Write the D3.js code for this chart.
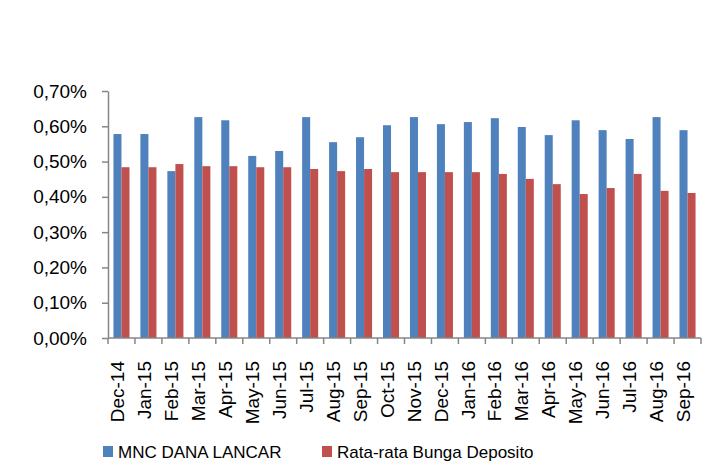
<!DOCTYPE html>
<html>
<head>
<meta charset="utf-8">
<script src="https://cdn.jsdelivr.net/npm/d3@7"></script>
<style>
  body { margin: 0; background: #fff; }
  svg { font-family: "Liberation Sans Narrow", "Arial Narrow", sans-serif; }
</style>
</head>
<body>
<svg width="718" height="473"></svg>
<script>
const svg = d3.select("svg");

const months = ["Dec-14", "Jan-15", "Feb-15", "Mar-15", "Apr-15", "May-15", "Jun-15", "Jul-15",
  "Aug-15", "Sep-15", "Oct-15", "Nov-15", "Dec-15", "Jan-16", "Feb-16", "Mar-16", "Apr-16",
  "May-16", "Jun-16", "Jul-16", "Aug-16", "Sep-16"];
const seriesNames = ["MNC DANA LANCAR", "Rata-rata Bunga Deposito"];
const danaLancar = [0.578, 0.578, 0.473, 0.626, 0.617, 0.516, 0.530, 0.626, 0.555, 0.569, 0.603,
  0.626, 0.606, 0.612, 0.623, 0.598, 0.575, 0.617, 0.589, 0.564, 0.626, 0.589];
const bungaDeposito = [0.484, 0.484, 0.493, 0.487, 0.487, 0.484, 0.484, 0.479, 0.473, 0.479, 0.470,
  0.470, 0.470, 0.470, 0.465, 0.451, 0.436, 0.408, 0.425, 0.465, 0.417, 0.411];
const yTicks = [0, 0.1, 0.2, 0.3, 0.4, 0.5, 0.6, 0.7];
const colors = ["#4f81bd", "#c0504d"];

const plotLeft = 108, plotRight = 701, plotTop = 91, plotBottom = 338;

const x = d3.scaleBand().domain(months).range([plotLeft, plotRight]).paddingInner(0).paddingOuter(0);
const inner = d3.scaleBand().domain([0, 1]).range([0, x.bandwidth()]).paddingOuter(0.68).paddingInner(0);
const y = d3.scaleLinear().domain([0, 0.7]).range([plotBottom, plotTop]);

const fmt = v => v.toFixed(2).replace(".", ",") + "%";

// bars
[danaLancar, bungaDeposito].forEach((vals, s) => {
  svg.append("g").selectAll("rect")
    .data(vals)
    .join("rect")
    .attr("x", (d, i) => x(months[i]) + inner(s))
    .attr("y", d => y(d))
    .attr("width", inner.bandwidth())
    .attr("height", d => plotBottom - y(d))
    .attr("fill", colors[s]);
});

// y axis
const yAxis = svg.append("g")
  .attr("transform", `translate(${plotLeft},0)`)
  .call(d3.axisLeft(y).tickValues(yTicks).tickFormat(fmt).tickSize(6).tickSizeOuter(0));
yAxis.attr("font-family", null);
yAxis.select(".domain").attr("stroke", "#868686").attr("stroke-width", 1.5);
yAxis.selectAll(".tick line").attr("stroke", "#868686").attr("stroke-width", 1.5);
yAxis.selectAll(".tick text")
  .attr("x", -21)
  .attr("font-size", 19)
  .attr("fill", "#000");

// x axis line + ticks between categories
svg.append("line")
  .attr("x1", plotLeft).attr("x2", plotRight)
  .attr("y1", plotBottom).attr("y2", plotBottom)
  .attr("stroke", "#868686").attr("stroke-width", 1.5);
svg.append("g").selectAll("line")
  .data(months.concat(["end"]))
  .join("line")
  .attr("x1", (d, i) => i < months.length ? x(d) : plotRight)
  .attr("x2", (d, i) => i < months.length ? x(d) : plotRight)
  .attr("y1", plotBottom).attr("y2", plotBottom + 6)
  .attr("stroke", "#868686").attr("stroke-width", 1.5);

// x labels
svg.append("g").selectAll("text")
  .data(months)
  .join("text")
  .attr("transform", d => `translate(${x(d) + x.bandwidth() / 2 - 4},${plotBottom + 23}) rotate(-90)`)
  .attr("text-anchor", "end")
  .attr("dy", "0.35em")
  .attr("font-size", 19)
  .attr("fill", "#000")
  .text(d => d);

// legend
const legendX = [103, 322];
const legend = svg.append("g").selectAll("g")
  .data(seriesNames)
  .join("g")
  .attr("transform", (d, i) => `translate(${legendX[i]},446)`);
legend.append("rect")
  .attr("width", 10).attr("height", 11)
  .attr("fill", (d, i) => colors[i]);
legend.append("text")
  .attr("x", 15).attr("y", 12)
  .attr("font-size", 17)
  .attr("fill", "#000")
  .text(d => d);
</script>
</body>
</html>
